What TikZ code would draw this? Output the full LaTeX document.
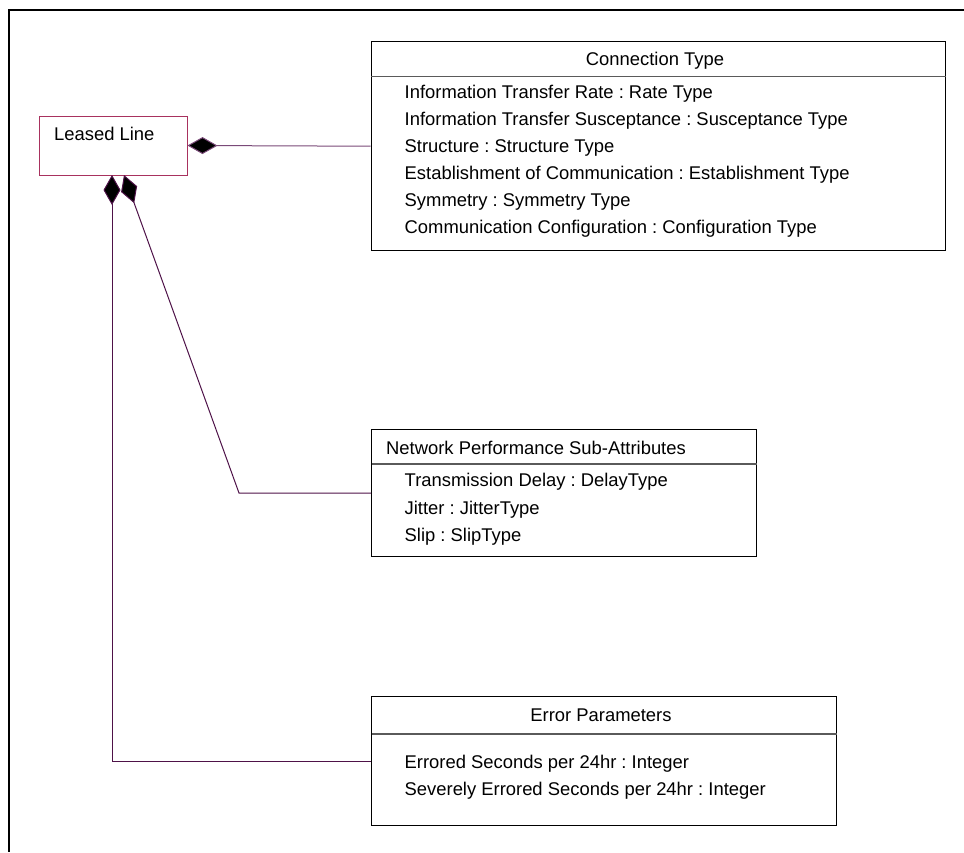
\documentclass[tikz,border=0pt]{standalone}
\usepackage{fontspec}
\setmainfont{Liberation Sans}
\usetikzlibrary{arrows.meta}
\frenchspacing

\definecolor{linkcol}{HTML}{4E1248}
\definecolor{linklight}{HTML}{7A4A78}
\definecolor{classedge}{HTML}{A8325E}
\definecolor{sepgray}{HTML}{5A5A5A}

\tikzset{
  umlbox/.style={draw=black, line width=1pt, inner sep=0pt, fill=white},
  leasedbox/.style={draw=classedge, line width=1pt, inner sep=0pt, fill=white},
  sepline/.style={draw=sepgray, line width=1.4pt},
  attr/.style={anchor=west, inner sep=0pt, text height=13pt, text depth=0pt,
    font=\fontsize{18.4pt}{22pt}\selectfont},
  title/.style={anchor=center, inner sep=0pt, text height=13pt, text depth=0pt,
    font=\fontsize{18.4pt}{22pt}\selectfont},
  compose/.style={draw=linkcol, line width=1pt,
    {Diamond[length=30pt, width=17pt, fill=black]}-},
}

\begin{document}
\begin{tikzpicture}[x=1pt, y=-1pt]
  \useasboundingbox (0,0) rectangle (964,852);

  % outer frame (top and left edges)
  \draw[line width=2.4pt, black] (964,10) -- (9,10) -- (9,852);

  % Leased Line class
  \node[leasedbox, minimum width=147.5pt, minimum height=59pt] (ll) at (113.25,145.5) {};
  \node[attr] (lltext) at (54,134) {Leased Line};

  % Connection Type class
  \node[umlbox, minimum width=574pt, minimum height=209pt] (ct) at (658,146.2) {};
  \coordinate (ctsep) at (371,76.7);
  \draw[sepline] (ctsep) -- (ctsep -| ct.east);
  \node[title] (cttitle) at (655,59) {Connection Type};
  \node[attr] (ct1) at (404.5,92)  {Information Transfer Rate : Rate Type};
  \node[attr] (ct2) at (404.5,119) {Information Transfer Susceptance : Susceptance Type};
  \node[attr] (ct3) at (404.5,146) {Structure : Structure Type};
  \node[attr] (ct4) at (404.5,173) {Establishment of Communication : Establishment Type};
  \node[attr] (ct5) at (404.5,200) {Symmetry : Symmetry Type};
  \node[attr] (ct6) at (404.5,227) {Communication Configuration : Configuration Type};

  % Network Performance Sub-Attributes class
  \node[umlbox, minimum width=385.3pt, minimum height=127.4pt] (np) at (564.3,493) {};
  \coordinate (npsep) at (371.7,464);
  \draw[sepline] (npsep) -- (npsep -| np.east);
  \node[attr] (nptitle) at (386,448) {Network Performance Sub-Attributes};
  \node[attr] (np1) at (404.5,480) {Transmission Delay : DelayType};
  \node[attr] (np2) at (404.5,507.5) {Jitter : JitterType};
  \node[attr] (np3) at (404.5,534.5) {Slip : SlipType};

  % Error Parameters class
  \node[umlbox, minimum width=465.3pt, minimum height=129.3pt] (ep) at (604.3,761.3) {};
  \coordinate (epsep) at (371.7,734);
  \draw[sepline] (epsep) -- (epsep -| ep.east);
  \node[title] (eptitle) at (601,715) {Error Parameters};
  \node[attr] (ep1) at (404.5,762) {Errored Seconds per 24hr : Integer};
  \node[attr] (ep2) at (404.5,789) {Severely Errored Seconds per 24hr : Integer};

  % composition links
  \coordinate (llbotA) at (112,175);
  \coordinate (llbotB) at (124,175);
  \coordinate (bendnp) at (239,493);
  \coordinate (bendep) at (112,761.3);

  \draw[compose, draw=linklight] (ll.east) -- (ct.west);
  \draw[compose] (llbotB) -- (bendnp) -- (np.west);
  \draw[compose] (llbotA) -- (bendep) -- (ep.west);
\end{tikzpicture}
\end{document}
